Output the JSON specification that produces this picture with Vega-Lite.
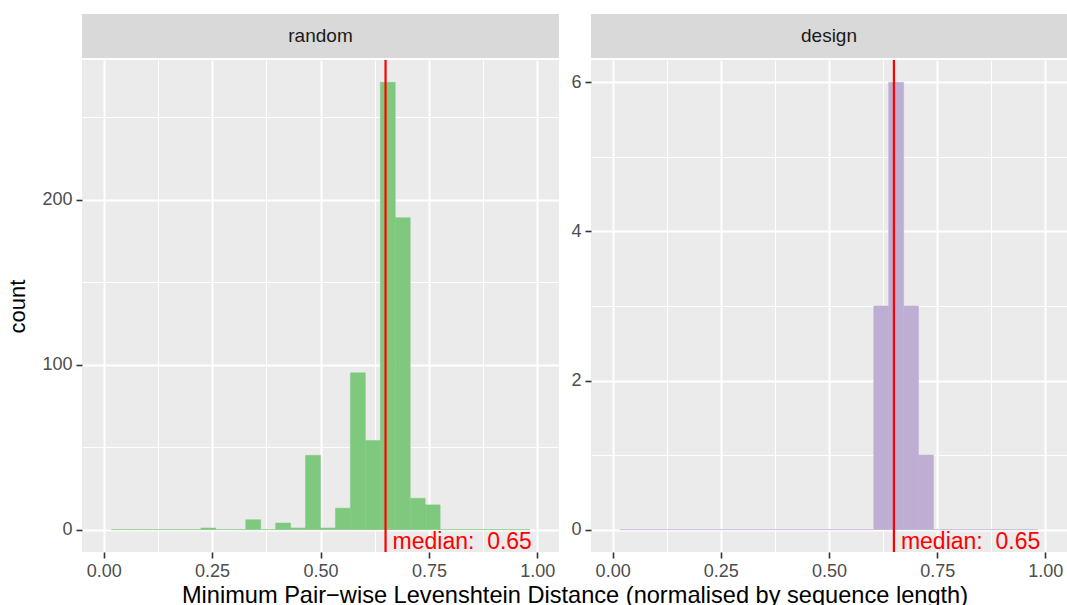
{
  "$schema": "https://vega.github.io/schema/vega-lite/v6.json",
  "padding": {"left": 6, "top": 14, "right": 0, "bottom": 0},
  "title": {"text": "Minimum Pair−wise Levenshtein Distance (normalised by sequence length)", "orient": "bottom", "anchor": "middle", "fontSize": 23.6, "fontWeight": "normal", "color": "#000000", "offset": 4, "dx": 38},
  "datasets": {
    "bins": [
      {"panel": "random", "x0": 0.0172, "x1": 0.0517, "count": 0},
      {"panel": "random", "x0": 0.0517, "x1": 0.0862, "count": 0},
      {"panel": "random", "x0": 0.0862, "x1": 0.1207, "count": 0},
      {"panel": "random", "x0": 0.1207, "x1": 0.1552, "count": 0},
      {"panel": "random", "x0": 0.1552, "x1": 0.1897, "count": 0},
      {"panel": "random", "x0": 0.1897, "x1": 0.2241, "count": 0},
      {"panel": "random", "x0": 0.2241, "x1": 0.2586, "count": 1},
      {"panel": "random", "x0": 0.2586, "x1": 0.2931, "count": 0},
      {"panel": "random", "x0": 0.2931, "x1": 0.3276, "count": 0},
      {"panel": "random", "x0": 0.3276, "x1": 0.3621, "count": 6},
      {"panel": "random", "x0": 0.3621, "x1": 0.3966, "count": 0},
      {"panel": "random", "x0": 0.3966, "x1": 0.4310, "count": 4},
      {"panel": "random", "x0": 0.4310, "x1": 0.4655, "count": 1},
      {"panel": "random", "x0": 0.4655, "x1": 0.5000, "count": 45},
      {"panel": "random", "x0": 0.5000, "x1": 0.5345, "count": 1},
      {"panel": "random", "x0": 0.5345, "x1": 0.5690, "count": 13},
      {"panel": "random", "x0": 0.5690, "x1": 0.6034, "count": 95},
      {"panel": "random", "x0": 0.6034, "x1": 0.6379, "count": 54},
      {"panel": "random", "x0": 0.6379, "x1": 0.6724, "count": 271},
      {"panel": "random", "x0": 0.6724, "x1": 0.7069, "count": 189},
      {"panel": "random", "x0": 0.7069, "x1": 0.7414, "count": 19},
      {"panel": "random", "x0": 0.7414, "x1": 0.7759, "count": 15},
      {"panel": "random", "x0": 0.7759, "x1": 0.8103, "count": 0},
      {"panel": "random", "x0": 0.8103, "x1": 0.8448, "count": 0},
      {"panel": "random", "x0": 0.8448, "x1": 0.8793, "count": 0},
      {"panel": "random", "x0": 0.8793, "x1": 0.9138, "count": 0},
      {"panel": "random", "x0": 0.9138, "x1": 0.9483, "count": 0},
      {"panel": "random", "x0": 0.9483, "x1": 0.9828, "count": 0},
      {"panel": "design", "x0": 0.0172, "x1": 0.0517, "count": 0},
      {"panel": "design", "x0": 0.0517, "x1": 0.0862, "count": 0},
      {"panel": "design", "x0": 0.0862, "x1": 0.1207, "count": 0},
      {"panel": "design", "x0": 0.1207, "x1": 0.1552, "count": 0},
      {"panel": "design", "x0": 0.1552, "x1": 0.1897, "count": 0},
      {"panel": "design", "x0": 0.1897, "x1": 0.2241, "count": 0},
      {"panel": "design", "x0": 0.2241, "x1": 0.2586, "count": 0},
      {"panel": "design", "x0": 0.2586, "x1": 0.2931, "count": 0},
      {"panel": "design", "x0": 0.2931, "x1": 0.3276, "count": 0},
      {"panel": "design", "x0": 0.3276, "x1": 0.3621, "count": 0},
      {"panel": "design", "x0": 0.3621, "x1": 0.3966, "count": 0},
      {"panel": "design", "x0": 0.3966, "x1": 0.4310, "count": 0},
      {"panel": "design", "x0": 0.4310, "x1": 0.4655, "count": 0},
      {"panel": "design", "x0": 0.4655, "x1": 0.5000, "count": 0},
      {"panel": "design", "x0": 0.5000, "x1": 0.5345, "count": 0},
      {"panel": "design", "x0": 0.5345, "x1": 0.5690, "count": 0},
      {"panel": "design", "x0": 0.5690, "x1": 0.6034, "count": 0},
      {"panel": "design", "x0": 0.6034, "x1": 0.6379, "count": 3},
      {"panel": "design", "x0": 0.6379, "x1": 0.6724, "count": 6},
      {"panel": "design", "x0": 0.6724, "x1": 0.7069, "count": 3},
      {"panel": "design", "x0": 0.7069, "x1": 0.7414, "count": 1},
      {"panel": "design", "x0": 0.7414, "x1": 0.7759, "count": 0},
      {"panel": "design", "x0": 0.7759, "x1": 0.8103, "count": 0},
      {"panel": "design", "x0": 0.8103, "x1": 0.8448, "count": 0},
      {"panel": "design", "x0": 0.8448, "x1": 0.8793, "count": 0},
      {"panel": "design", "x0": 0.8793, "x1": 0.9138, "count": 0},
      {"panel": "design", "x0": 0.9138, "x1": 0.9483, "count": 0},
      {"panel": "design", "x0": 0.9483, "x1": 0.9828, "count": 0}
    ],
    "med": [
      {"panel": "random", "x0": 0.65, "label": "median:\u00a0 0.65"},
      {"panel": "design", "x0": 0.65, "label": "median:\u00a0 0.65"}
    ]
  },
  "resolve": {"scale": {"x": "independent", "y": "independent"}},
  "hconcat": [
    {
      "spacing": 0,
      "vconcat": [
        {
          "width": 477, "height": 44,
          "view": {"fill": "#D9D9D9", "stroke": null},
          "data": {"values": [{"panel": "random"}]},
          "mark": {"type": "text", "fontSize": 19, "color": "#1A1A1A", "baseline": "middle", "align": "center"},
          "encoding": {"text": {"field": "panel"}}
        },
        {
          "width": 477, "height": 492,
          "encoding": {
            "x": {"field": "x0", "type": "quantitative", "title": null,
              "scale": {"domain": [-0.05, 1.05], "nice": false, "zero": false},
              "axis": {"values": [0, 0.125, 0.25, 0.375, 0.5, 0.625, 0.75, 0.875, 1],
                "labelExpr": "datum.value * 4 == round(datum.value * 4) ? format(datum.value, '.2f') : ''",
                "labelOverlap": false, "labelFlush": false,
                "gridWidth": {"condition": {"test": "datum.value * 4 == round(datum.value * 4)", "value": 2}, "value": 1},
                "tickOpacity": {"condition": {"test": "datum.value * 4 == round(datum.value * 4)", "value": 1}, "value": 0}}}
          },
          "layer": [
            {
              "data": {"name": "bins"},
              "transform": [{"filter": "datum.panel == 'random'"}],
              "mark": {"type": "rect", "color": "#7FC97F", "stroke": "#7FC97F", "strokeWidth": 0.5},
              "encoding": {
                "x2": {"field": "x1"},
                "y": {"field": "count", "type": "quantitative", "title": "count",
                  "scale": {"domain": [-13.55, 284.55], "nice": false, "zero": false},
                  "axis": {"values": [0, 50, 100, 150, 200, 250],
                    "labelExpr": "datum.value % 100 == 0 ? format(datum.value, 'd') : ''",
                    "labelOverlap": false, "labelFlush": false,
                    "gridWidth": {"condition": {"test": "datum.value % 100 == 0", "value": 2}, "value": 1},
                    "tickOpacity": {"condition": {"test": "datum.value % 100 == 0", "value": 1}, "value": 0}}},
                "y2": {"datum": 0}
              }
            },
            {
              "data": {"name": "med"},
              "transform": [{"filter": "datum.panel == 'random'"}],
              "mark": {"type": "rule", "color": "#FF0000", "strokeWidth": 2.2}
            },
            {
              "data": {"name": "med"},
              "transform": [{"filter": "datum.panel == 'random'"}],
              "mark": {"type": "text", "align": "left", "baseline": "top", "dx": 7, "dy": 1, "fontSize": 23, "color": "#FF0000"},
              "encoding": {
                "y": {"datum": 0, "type": "quantitative", "title": "count"},
                "text": {"field": "label"}
              }
            }
          ]
        }
      ]
    },
    {
      "spacing": 0,
      "vconcat": [
        {
          "width": 476, "height": 44,
          "view": {"fill": "#D9D9D9", "stroke": null},
          "data": {"values": [{"panel": "design"}]},
          "mark": {"type": "text", "fontSize": 19, "color": "#1A1A1A", "baseline": "middle", "align": "center"},
          "encoding": {"text": {"field": "panel"}}
        },
        {
          "width": 476, "height": 492,
          "encoding": {
            "x": {"field": "x0", "type": "quantitative", "title": null,
              "scale": {"domain": [-0.05, 1.05], "nice": false, "zero": false},
              "axis": {"values": [0, 0.125, 0.25, 0.375, 0.5, 0.625, 0.75, 0.875, 1],
                "labelExpr": "datum.value * 4 == round(datum.value * 4) ? format(datum.value, '.2f') : ''",
                "labelOverlap": false, "labelFlush": false,
                "gridWidth": {"condition": {"test": "datum.value * 4 == round(datum.value * 4)", "value": 2}, "value": 1},
                "tickOpacity": {"condition": {"test": "datum.value * 4 == round(datum.value * 4)", "value": 1}, "value": 0}}}
          },
          "layer": [
            {
              "data": {"name": "bins"},
              "transform": [{"filter": "datum.panel == 'design'"}],
              "mark": {"type": "rect", "color": "#BEAED4", "stroke": "#BEAED4", "strokeWidth": 0.5},
              "encoding": {
                "x2": {"field": "x1"},
                "y": {"field": "count", "type": "quantitative", "title": null,
                  "scale": {"domain": [-0.3, 6.3], "nice": false, "zero": false},
                  "axis": {"values": [0, 1, 2, 3, 4, 5, 6],
                    "labelExpr": "datum.value % 2 == 0 ? format(datum.value, 'd') : ''",
                    "labelOverlap": false, "labelFlush": false,
                    "gridWidth": {"condition": {"test": "datum.value % 2 == 0", "value": 2}, "value": 1},
                    "tickOpacity": {"condition": {"test": "datum.value % 2 == 0", "value": 1}, "value": 0}}},
                "y2": {"datum": 0}
              }
            },
            {
              "data": {"name": "med"},
              "transform": [{"filter": "datum.panel == 'design'"}],
              "mark": {"type": "rule", "color": "#FF0000", "strokeWidth": 2.2}
            },
            {
              "data": {"name": "med"},
              "transform": [{"filter": "datum.panel == 'design'"}],
              "mark": {"type": "text", "align": "left", "baseline": "top", "dx": 7, "dy": 1, "fontSize": 23, "color": "#FF0000"},
              "encoding": {
                "y": {"datum": 0, "type": "quantitative", "title": null},
                "text": {"field": "label"}
              }
            }
          ]
        }
      ]
    }
  ],
  "spacing": 11,
  "config": {
    "font": "Liberation Sans",
    "view": {"fill": "#EBEBEB", "stroke": null},
    "axis": {
      "domain": false, "grid": true, "gridColor": "#FFFFFF",
      "labelColor": "#4D4D4D", "labelFontSize": 18, "labelPadding": 4,
      "tickColor": "#333333", "tickSize": 6, "tickWidth": 1.6,
      "titleFontSize": 22, "titleFontWeight": "normal", "titleColor": "#000000", "titlePadding": 12
    }
  }
}
